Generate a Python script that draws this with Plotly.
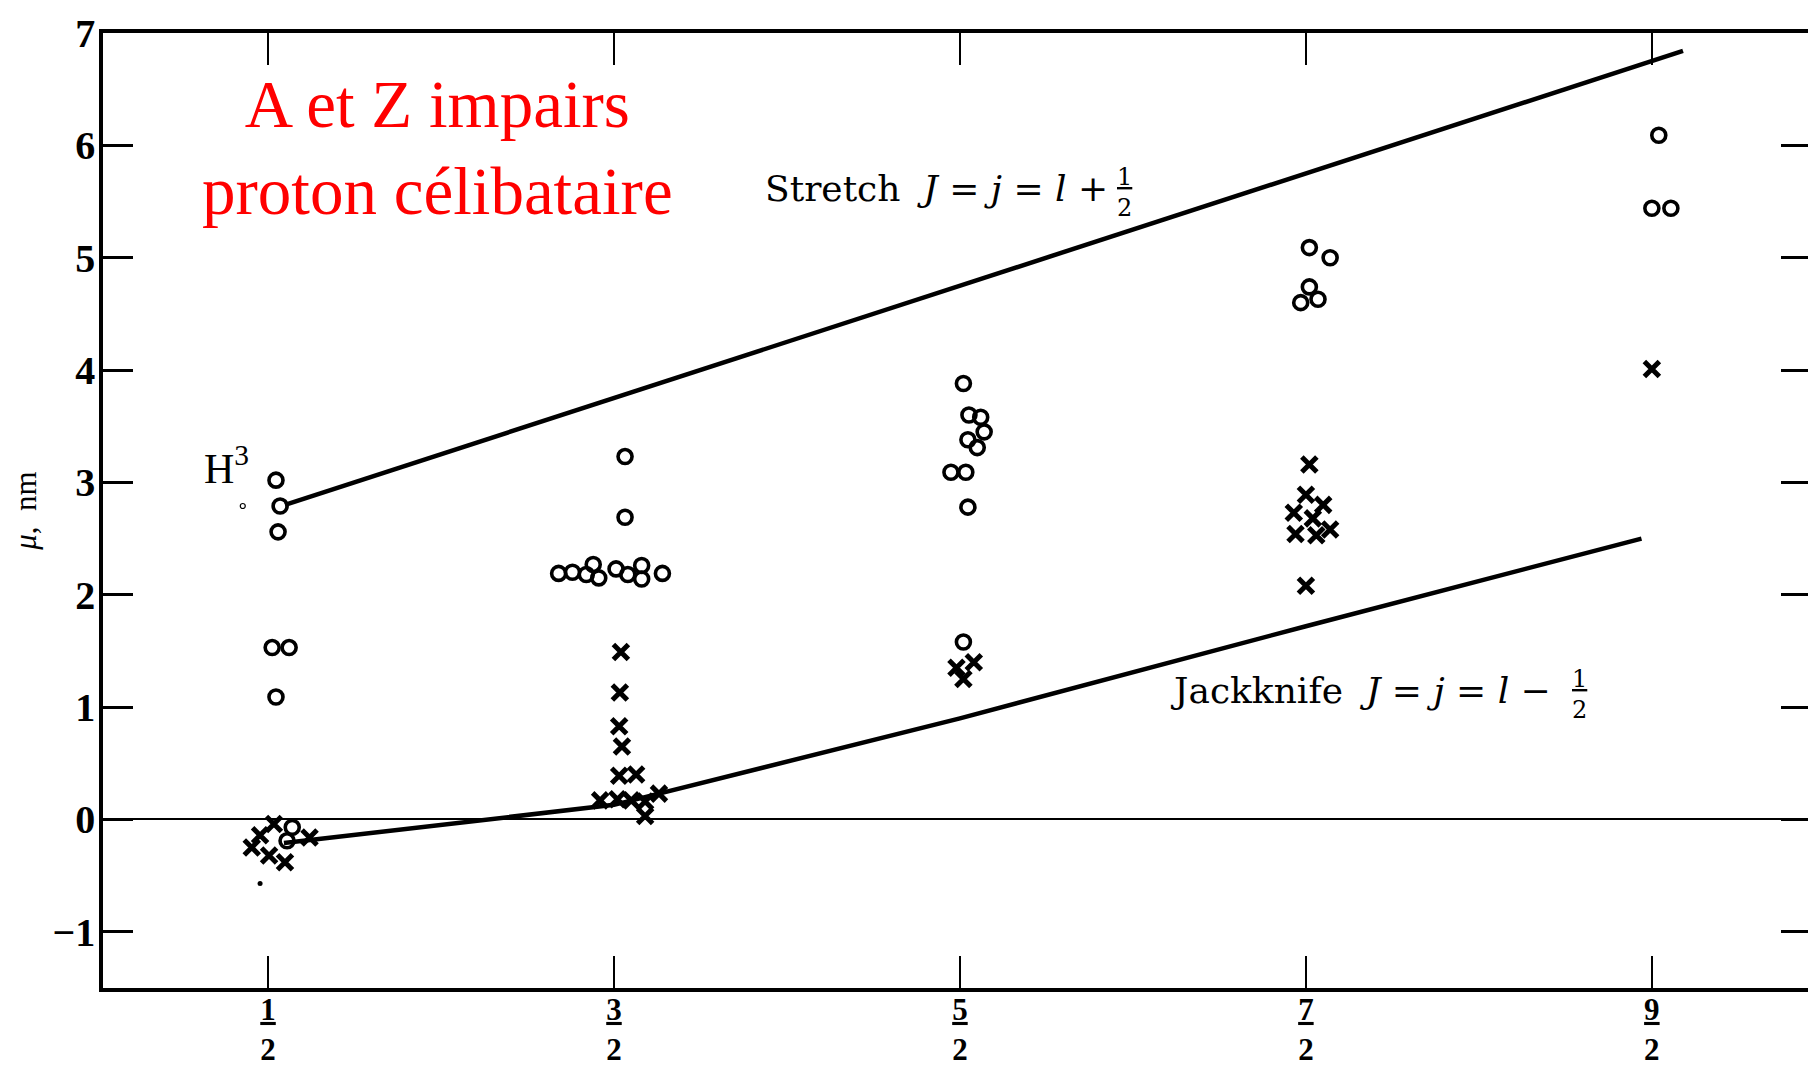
import plotly.graph_objects as go

# ---- axis ticks ----
spin_ticks = [0.5, 1.5, 2.5, 3.5, 4.5]
spin_num = ["1", "3", "5", "7", "9"]
mu_ticks = [-1, 0, 1, 2, 3, 4, 5, 6, 7]
mu_labels = ["\u22121", "0", "1", "2", "3", "4", "5", "6", "7"]

# ---- measured moments: open circles (j = l + 1/2) ----
circ_j = [0.523, 0.535, 0.529, 0.512, 0.561, 0.523, 0.57, 0.555,
          1.532, 1.532, 1.34, 1.38, 1.42, 1.44, 1.456, 1.506, 1.54, 1.58, 1.58, 1.64,
          2.51, 2.526, 2.56, 2.57, 2.523, 2.55, 2.474, 2.517, 2.523, 2.51,
          3.51, 3.57, 3.51, 3.485, 3.535,
          4.52, 4.50, 4.555]
circ_mu = [3.02, 2.79, 2.56, 1.53, 1.53, 1.09, -0.07, -0.19,
           3.23, 2.69, 2.19, 2.20, 2.18, 2.27, 2.15, 2.23, 2.18, 2.26, 2.14, 2.19,
           3.88, 3.60, 3.58, 3.45, 3.38, 3.31, 3.09, 3.09, 2.78, 1.58,
           5.09, 5.00, 4.74, 4.60, 4.63,
           6.09, 5.44, 5.44]

# ---- measured moments: crosses (j = l - 1/2) ----
cross_j = [0.477, 0.453, 0.503, 0.549, 0.517, 0.62,
           1.52, 1.517, 1.515, 1.523, 1.515, 1.564, 1.46, 1.51, 1.55, 1.59, 1.63, 1.59,
           2.49, 2.54, 2.51,
           3.51, 3.50, 3.55, 3.465, 3.52, 3.47, 3.53, 3.57, 3.50,
           4.50]
cross_mu = [-0.14, -0.25, -0.32, -0.38, -0.04, -0.16,
            1.49, 1.13, 0.83, 0.65, 0.39, 0.40, 0.17, 0.18, 0.17, 0.16, 0.23, 0.03,
            1.35, 1.40, 1.25,
            3.16, 2.89, 2.80, 2.73, 2.68, 2.54, 2.53, 2.58, 2.08,
            4.01]

# ---- small marks ----
small_circ_j = [0.427]
small_circ_mu = [2.79]
dot_j = [0.477]
dot_mu = [-0.57]

# ---- Schmidt lines ----
stretch_j = [0.549, 4.59]
stretch_mu = [2.80, 6.84]
jack_j = [0.546, 1.5, 2.5, 3.5, 4.47]
jack_mu = [-0.21, 0.13, 0.90, 1.72, 2.50]

BLACK = "black"
fig = go.Figure()

fig.add_trace(go.Scatter(x=stretch_j, y=stretch_mu, mode="lines",
                         line=dict(color=BLACK, width=4.5), hoverinfo="skip"))
fig.add_trace(go.Scatter(x=jack_j, y=jack_mu, mode="lines",
                         line=dict(color=BLACK, width=4.5), hoverinfo="skip"))
fig.add_trace(go.Scatter(x=circ_j, y=circ_mu, mode="markers",
                         marker=dict(symbol="circle-open", size=14, color=BLACK,
                                     line=dict(width=3.6, color=BLACK))))
fig.add_trace(go.Scatter(x=cross_j, y=cross_mu, mode="markers",
                         marker=dict(symbol="x-thin-open", size=15, color=BLACK,
                                     line=dict(width=5, color=BLACK))))
fig.add_trace(go.Scatter(x=small_circ_j, y=small_circ_mu, mode="markers",
                         marker=dict(symbol="circle-open", size=5, color=BLACK,
                                     line=dict(width=1.2, color=BLACK))))
fig.add_trace(go.Scatter(x=dot_j, y=dot_mu, mode="markers",
                         marker=dict(symbol="circle", size=5, color=BLACK)))

frac = "<span style='text-decoration:underline'>{}</span><br>2"
spin_labels = [frac.format(n) for n in spin_num]

fig.update_layout(
    width=1816, height=1074,
    margin=dict(l=94, r=13, t=3, b=94),
    plot_bgcolor="white", paper_bgcolor="white",
    showlegend=False,
    xaxis=dict(range=[0.023, 4.96], tickvals=spin_ticks, ticktext=spin_labels,
               showline=True, linecolor=BLACK, linewidth=3.5, mirror="ticks",
               ticks="inside", ticklen=32, tickwidth=1.5, tickcolor=BLACK,
               showgrid=False, zeroline=False,
               ticklabelstandoff=-9,
               tickfont=dict(family="Liberation Serif", size=31, color=BLACK,
                             weight="bold")),
    yaxis=dict(range=[-1.5, 7.0], tickvals=mu_ticks, ticktext=mu_labels,
               showline=True, linecolor=BLACK, linewidth=3.5, mirror="ticks",
               ticks="inside", ticklen=30, tickwidth=3, tickcolor=BLACK,
               showgrid=False, zeroline=True, zerolinecolor=BLACK, zerolinewidth=2,
               ticklabeloverflow="allow", ticklabelstandoff=-4,
               tickfont=dict(family="Liberation Serif", size=40, color=BLACK,
                             weight="bold"),
               title=dict(text="<i>\u03bc</i>,  nm", standoff=20,
                          font=dict(family="Liberation Serif", size=31, color=BLACK))),
)

serif = "DejaVu Serif"
fig.add_annotation(x=0.99, y=5.98, text="A et Z impairs<br>proton célibataire",
                   showarrow=False, xanchor="center", yanchor="middle",
                   font=dict(family="Liberation Serif", size=67, color="#ff0000"))
fig.add_annotation(x=1.93, y=5.62, text="Stretch  <i>J</i> = <i>j</i> = <i>l</i> +",
                   showarrow=False, xanchor="left", yanchor="middle",
                   font=dict(family=serif, size=36, color=BLACK))
fig.add_annotation(x=2.975, y=5.58, text="<span style='text-decoration:underline'>1</span><br>2",
                   showarrow=False, xanchor="center", yanchor="middle",
                   font=dict(family=serif, size=24, color=BLACK))
fig.add_annotation(x=3.10, y=1.15, text="Jackknife  <i>J</i> = <i>j</i> = <i>l</i> \u2212",
                   showarrow=False, xanchor="left", yanchor="middle",
                   font=dict(family=serif, size=36, color=BLACK))
fig.add_annotation(x=4.29, y=1.11, text="<span style='text-decoration:underline'>1</span><br>2",
                   showarrow=False, xanchor="center", yanchor="middle",
                   font=dict(family=serif, size=24, color=BLACK))
fig.add_annotation(x=0.38, y=3.15, text="H<sup>3</sup>",
                   showarrow=False, xanchor="center", yanchor="middle",
                   font=dict(family="Liberation Serif", size=42, color=BLACK))

fig.write_html("out.html")
